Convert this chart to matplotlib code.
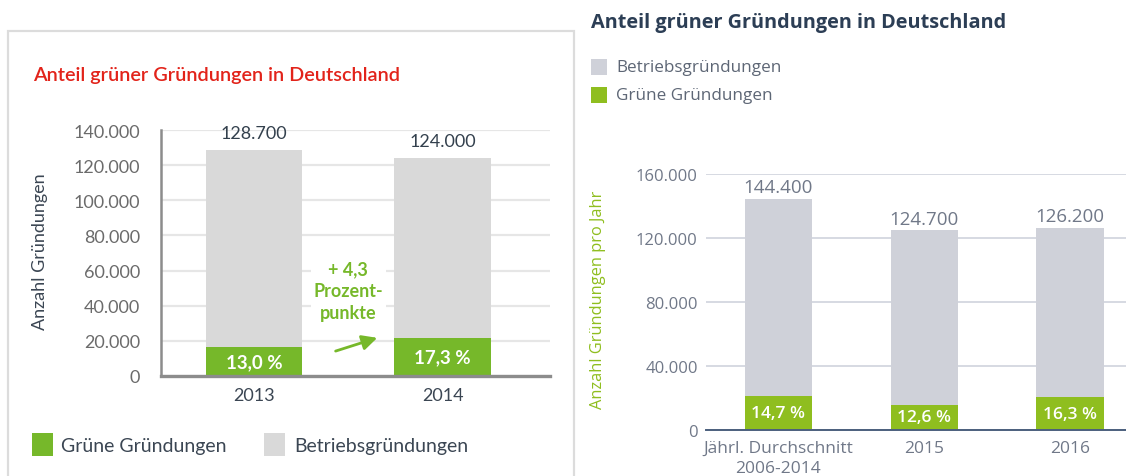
import matplotlib
matplotlib.use("Agg")
import matplotlib.pyplot as plt
from matplotlib.patches import Rectangle

# ---- data: left chart (2013/2014) ----
left_years = ["2013", "2014"]
left_total = [128700, 124000]
left_share = [13.0, 17.3]          # Anteil grüne Gründungen in %
left_ticks = [0, 20000, 40000, 60000, 80000, 100000, 120000, 140000]
left_delta = "+ 4,3\nProzent-\npunkte"

# ---- data: right chart ----
right_cats = ["Jährl. Durchschnitt\n2006-2014", "2015", "2016"]
right_total = [144400, 124700, 126200]
right_share = [14.7, 12.6, 16.3]
right_ticks = [0, 40000, 80000, 120000, 160000]

series = ["Grüne Gründungen", "Betriebsgründungen"]
title = "Anteil grüner Gründungen in Deutschland"

W, H = 1126, 477
def fx(px): return px / W
def fy(py): return (H - py) / H
def de(v): return f"{v:,.0f}".replace(",", ".")
def pct(v): return f"{v:.1f}".replace(".", ",") + " %"

fig = plt.figure(figsize=(W / 100, H / 100), dpi=100, facecolor="white")

# ================= left panel =================
LF = ["Lato", "DejaVu Sans"]
L_GREEN, L_GRAY, L_TXT = "#76b82a", "#d9d9d9", "#3b4653"
fig.patches.append(Rectangle((fx(8), fy(520)), fx(574) - fx(8), fy(32) - fy(520),
                             transform=fig.transFigure, fill=False, ec="#dcdcdc", lw=1.6))
fig.text(fx(33), fy(81), title, color="#e2231a", fontsize=14.3, family=LF,
         fontweight="semibold", va="baseline")

axl = fig.add_axes([fx(161), fy(377), fx(550) - fx(161), fy(131) - fy(377)])
xl = range(len(left_years))
green_l = [t * s / 100 for t, s in zip(left_total, left_share)]
axl.bar(xl, left_total, width=0.51, color=L_GRAY, zorder=2)
axl.bar(xl, green_l, width=0.51, color=L_GREEN, zorder=3)
axl.set_ylim(0, 140000)
axl.set_xlim(-0.493, 1.57)
axl.set_yticks(left_ticks)
axl.set_yticklabels([de(v) for v in left_ticks], family=LF, fontsize=13, color="#6b6b6b")
axl.set_xticks(list(xl))
axl.set_xticklabels(left_years, family=LF, fontsize=13, color=L_TXT)
axl.tick_params(axis="y", length=0, pad=15)
axl.tick_params(axis="x", length=0, pad=8)
axl.grid(axis="y", color="#e6e6e6", lw=1.6, zorder=0)
axl.set_axisbelow(True)
for s in ["top", "right"]:
    axl.spines[s].set_visible(False)
axl.spines["left"].set_color("#8c8c8c"); axl.spines["left"].set_linewidth(1.8)
axl.spines["bottom"].set_color("#8c8c8c"); axl.spines["bottom"].set_linewidth(2.4)
axl.spines["left"].set_zorder(4); axl.spines["bottom"].set_zorder(4)
for i in xl:
    axl.annotate(de(left_total[i]), (i, left_total[i]), xytext=(0, 12), textcoords="offset points",
                 ha="center", va="center", family=LF, fontsize=13, color="#33404d")
    axl.text(i, green_l[i] / 2, pct(left_share[i]), ha="center", va="center",
             family=LF, fontsize=13.5, color="white", fontweight="bold", zorder=5)
axl.text(0.5, 48500, left_delta, ha="center", va="center", family=LF, fontsize=13,
         color="#76b82a", fontweight="bold", linespacing=1.35, zorder=3,
         bbox=dict(facecolor="white", edgecolor="none", pad=2))
axl.annotate("", xy=(0.668, 22200), xytext=(0.419, 13700),
             arrowprops=dict(arrowstyle="-|>,head_length=0.9,head_width=0.45", color=L_GREEN, lw=2),
             zorder=5)
fig.text(fx(40), fy(252), "Anzahl Gründungen", rotation=90, ha="center", va="center",
         family=LF, fontsize=13, color=L_TXT)
# legend
leg_l = [(32, L_GREEN, 61), (264, L_GRAY, 294)]
for (x0, col, tx), name in zip(leg_l, series):
    fig.patches.append(Rectangle((fx(x0), fy(457)), fx(21), 23 / H, transform=fig.transFigure,
                                 color=col, lw=0))
    fig.text(fx(tx), fy(447), name, family=LF, fontsize=14, color=L_TXT, va="center")

# ================= right panel =================
RF = ["Open Sans", "DejaVu Sans"]
R_GREEN, R_GRAY, R_TXT = "#8fbe1f", "#cfd1d9", "#707888"
fig.text(fx(591), fy(28), title, color="#2c3e55", fontsize=14.3, family=RF,
         fontweight="bold", va="baseline")
for (y0, col), name in zip([(60, R_GRAY), (88, R_GREEN)], series[::-1]):
    fig.patches.append(Rectangle((fx(591), fy(y0 + 16)), fx(16), 16 / H, transform=fig.transFigure,
                                 color=col, lw=0))
    fig.text(fx(616), fy(y0 + 8), name, family=RF, fontsize=12.3, color="#5d6675", va="center")

axr = fig.add_axes([fx(706), fy(431), fx(1126) - fx(706), fy(175) - fy(431)])
xr = range(len(right_cats))
green_r = [t * s / 100 for t, s in zip(right_total, right_share)]
axr.bar(xr, right_total, width=0.46, color=R_GRAY, zorder=2)
axr.bar(xr, green_r, width=0.46, color=R_GREEN, zorder=3)
axr.set_ylim(0, 160000)
axr.set_xlim(-0.497, 2.384)
axr.set_yticks(right_ticks)
axr.set_yticklabels([de(v) for v in right_ticks], family=RF, fontsize=12, color=R_TXT)
axr.set_xticks(list(xr))
axr.set_xticklabels(right_cats, family=RF, fontsize=12.5, color=R_TXT, linespacing=1.35)
axr.tick_params(axis="y", length=0, pad=6)
axr.tick_params(axis="x", length=0, pad=7)
axr.grid(axis="y", color="#d3d7df", lw=1.3, zorder=0)
axr.set_axisbelow(True)
for s in ["top", "right", "left"]:
    axr.spines[s].set_visible(False)
axr.spines["bottom"].set_color("#4b5f7d"); axr.spines["bottom"].set_linewidth(1.4)
axr.spines["bottom"].set_zorder(4)
for i in xr:
    axr.annotate(de(right_total[i]), (i, right_total[i]), xytext=(0, 8.5), textcoords="offset points",
                 ha="center", va="center", family=RF, fontsize=13.5, color=R_TXT)
    axr.text(i, green_r[i] / 2, pct(right_share[i]), ha="center", va="center",
             family=RF, fontsize=12.5, color="white", fontweight="semibold", zorder=5)
fig.text(fx(598), fy(300), "Anzahl Gründungen pro Jahr", rotation=90, ha="center", va="center",
         family=RF, fontsize=11.8, color="#8fbe1f")

fig.savefig("out.png", dpi=100, facecolor="white")
